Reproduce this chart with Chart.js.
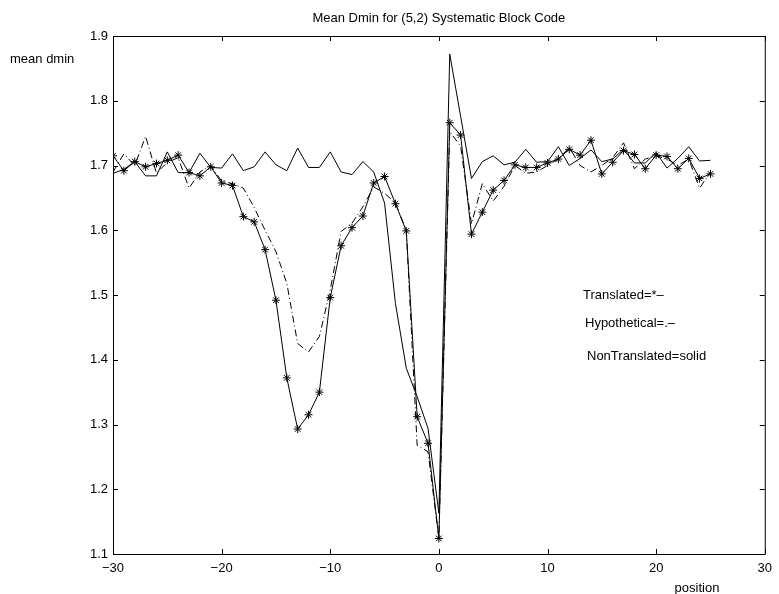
<!DOCTYPE html>
<html>
<head>
<meta charset="utf-8">
<title>Mean Dmin for (5,2) Systematic Block Code</title>
<script src="https://cdn.jsdelivr.net/npm/chart.js@4.4.0/dist/chart.umd.min.js"></script>
<style>
  html, body { margin: 0; padding: 0; background: #fff; }
  #wrap { width: 779px; height: 594px; }
</style>
</head>
<body>
<div id="wrap"><canvas id="myChart" width="779" height="594"></canvas></div>
<script>
// position along the code word
const positions = [-30, -29, -28, -27, -26, -25, -24, -23, -22, -21, -20, -19, -18, -17, -16, -15, -14, -13, -12, -11,
    -10, -9, -8, -7, -6, -5, -4, -3, -2, -1, 0, 1, 2, 3, 4, 5, 6, 7, 8, 9,
    10, 11, 12, 13, 14, 15, 16, 17, 18, 19, 20, 21, 22, 23, 24, 25];

const translated = [1.715, 1.692, 1.706, 1.698, 1.703, 1.708, 1.716, 1.689, 1.684, 1.698, 1.673, 1.669, 1.621, 1.613, 1.570, 1.492, 1.372, 1.293, 1.315, 1.350,
    1.496, 1.576, 1.604, 1.622, 1.673, 1.683, 1.641, 1.599, 1.312, 1.271, 1.124, 1.766, 1.747, 1.594, 1.628, 1.662, 1.677, 1.701, 1.697, 1.697,
    1.704, 1.710, 1.725, 1.716, 1.739, 1.687, 1.705, 1.723, 1.717, 1.695, 1.716, 1.714, 1.695, 1.711, 1.680, 1.687];

const hypothetical = [1.690, 1.718, 1.700, 1.745, 1.688, 1.705, 1.712, 1.665, 1.690, 1.700, 1.676, 1.672, 1.665, 1.635, 1.600, 1.567, 1.518, 1.425, 1.412, 1.436,
    1.508, 1.598, 1.611, 1.636, 1.667, 1.657, 1.642, 1.600, 1.268, 1.258, 1.124, 1.752, 1.730, 1.610, 1.672, 1.645, 1.668, 1.700, 1.688, 1.690,
    1.700, 1.710, 1.728, 1.700, 1.690, 1.700, 1.712, 1.735, 1.695, 1.710, 1.715, 1.710, 1.700, 1.710, 1.665, 1.690];

const nonTranslated = [1.688, 1.694, 1.706, 1.684, 1.684, 1.721, 1.689, 1.689, 1.719, 1.697, 1.696, 1.718, 1.692, 1.698, 1.721, 1.701, 1.692, 1.727, 1.697, 1.697,
    1.721, 1.690, 1.686, 1.706, 1.690, 1.642, 1.487, 1.387, 1.343, 1.294, 1.163, 1.872, 1.776, 1.680, 1.706, 1.715, 1.701, 1.705, 1.725, 1.705,
    1.706, 1.729, 1.700, 1.711, 1.724, 1.706, 1.710, 1.725, 1.704, 1.704, 1.720, 1.696, 1.711, 1.729, 1.707, 1.708];

const xTicks = [-30, -20, -10, 0, 10, 20, 30];
const yTicks = [1.1, 1.2, 1.3, 1.4, 1.5, 1.6, 1.7, 1.8, 1.9];

const titleText = 'Mean Dmin for (5,2) Systematic Block Code';
const xLabel = 'position';
const yLabel = 'mean dmin';
const notes = ['Translated=*\u2013', 'Hypothetical=.\u2013', 'NonTranslated=solid'];

const FONT = "'Liberation Sans', Arial, Helvetica, sans-serif";
Chart.defaults.font.family = FONT;
Chart.defaults.font.size = 13;
Chart.defaults.color = '#000';

function points(ys) {
    return positions.map((x, i) => ({ x: x, y: ys[i] }));
}

// matlab style box, inward ticks and the loose texts
const matlabFrame = {
    id: 'matlabFrame',
    afterDatasetsDraw(chart) {
        const ctx = chart.ctx;
        const a = chart.chartArea;
        const xs = chart.scales.x;
        const ys = chart.scales.y;
        const tl = 5;
        ctx.save();
        ctx.strokeStyle = '#000';
        ctx.lineWidth = 1;
        ctx.beginPath();
        ctx.rect(a.left + 0.5, a.top + 0.5, a.right - a.left, a.bottom - a.top);
        xTicks.forEach(v => {
            const px = Math.round(xs.getPixelForValue(v)) + 0.5;
            ctx.moveTo(px, a.bottom);
            ctx.lineTo(px, a.bottom - tl);
            ctx.moveTo(px, a.top);
            ctx.lineTo(px, a.top + tl);
        });
        yTicks.forEach(v => {
            const py = Math.round(ys.getPixelForValue(v)) + 0.5;
            ctx.moveTo(a.left, py);
            ctx.lineTo(a.left + tl, py);
            ctx.moveTo(a.right, py);
            ctx.lineTo(a.right - tl, py);
        });
        ctx.stroke();

        ctx.fillStyle = '#000';
        ctx.font = '13px ' + FONT;
        ctx.textBaseline = 'middle';
        ctx.textAlign = 'center';
        ctx.fillText(titleText, (a.left + a.right) / 2, 18);
        ctx.fillText(xLabel, 697, 588);
        ctx.textAlign = 'left';
        ctx.fillText(yLabel, 10, 59);
        ctx.fillText(notes[0], 583, 295);
        ctx.fillText(notes[1], 585, 323);
        ctx.fillText(notes[2], 587, 356);
        ctx.restore();
    }
};

const ctx = document.getElementById('myChart').getContext('2d');
const myChart = new Chart(ctx, {
    type: 'line',
    data: {
        datasets: [{
            label: 'Translated',
            data: points(translated),
            borderColor: '#000',
            backgroundColor: '#000',
            borderWidth: 1,
            pointStyle: 'star',
            pointRadius: 4,
            pointBorderWidth: 1,
            pointBorderColor: '#000',
            tension: 0
        }, {
            label: 'Hypothetical',
            data: points(hypothetical),
            borderColor: '#000',
            borderWidth: 1,
            borderDash: [7, 3, 1, 3],
            pointRadius: 0,
            tension: 0
        }, {
            label: 'NonTranslated',
            data: points(nonTranslated),
            borderColor: '#000',
            borderWidth: 1,
            pointRadius: 0,
            tension: 0
        }]
    },
    plugins: [matlabFrame],
    options: {
        responsive: false,
        animation: false,
        devicePixelRatio: 1,
        layout: { padding: { top: 36, right: 9, left: 0, bottom: 0 } },
        plugins: {
            legend: { display: false },
            title: { display: false },
            tooltip: { enabled: false }
        },
        scales: {
            x: {
                type: 'linear',
                min: -30,
                max: 30,
                afterBuildTicks: s => { s.ticks = xTicks.map(v => ({ value: v })); },
                afterFit: s => { s.height = 40; },
                grid: { display: false, drawTicks: false },
                border: { display: false },
                ticks: {
                    padding: 7,
                    maxRotation: 0,
                    callback: v => (v < 0 ? '\u2212' + Math.abs(v) : String(v))
                }
            },
            y: {
                type: 'linear',
                min: 1.1,
                max: 1.9,
                afterBuildTicks: s => { s.ticks = yTicks.map(v => ({ value: v })); },
                afterFit: s => { s.width = 113; },
                grid: { display: false, drawTicks: false },
                border: { display: false },
                ticks: {
                    padding: 5,
                    callback: v => Number(v).toFixed(1)
                }
            }
        }
    }
});
</script>
</body>
</html>
